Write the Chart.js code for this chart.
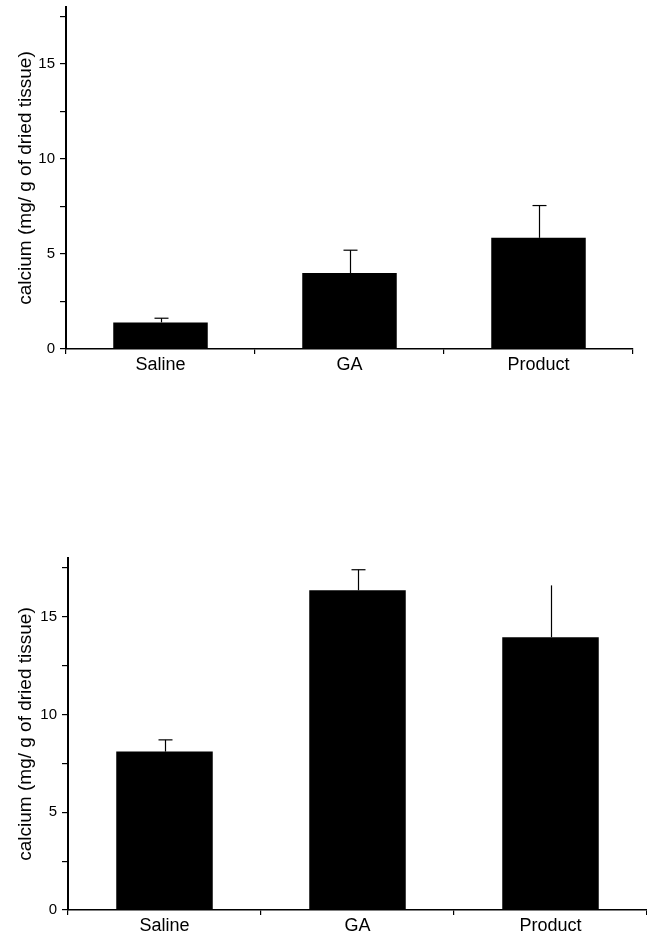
<!DOCTYPE html>
<html><head><meta charset="utf-8">
<script src="https://cdn.jsdelivr.net/npm/chart.js@4/dist/chart.umd.min.js"></script>
<style>
html,body{margin:0;padding:0;background:#fff;width:647px;height:936px;overflow:hidden;}
.box{position:absolute;left:0;width:647px;}
#b1{top:0;height:390px;}
#b2{top:540px;height:396px;}
</style></head><body>
<div class="box" id="b1"><canvas id="c1"></canvas></div>
<div class="box" id="b2"><canvas id="c2"></canvas></div>
<script>
const categories = ['Saline', 'GA', 'Product'];
const topMeans = [1.4, 4.0, 5.85];
const topErrors = [0.22, 1.2, 1.7];
const bottomMeans = [8.1, 16.35, 13.95];
const bottomErrors = [0.6, 1.05, 2.65];
const yTickLabels = [0, 5, 10, 15];
const yAxisTitle = 'calcium (mg/ g of dried tissue)';
const yMax = 18;

const FONT = '"Liberation Sans", Arial, Helvetica, sans-serif';

const errorBarPlugin = {
  id: 'errorBars',
  afterDatasetsDraw(chart, args, opts) {
    const meta = chart.getDatasetMeta(0);
    const ys = chart.scales.y;
    const ctx = chart.ctx;
    const errs = opts.errors || [];
    const noCap = opts.noCap || [];
    const data = chart.data.datasets[0].data;
    ctx.save();
    ctx.strokeStyle = '#000';
    ctx.lineWidth = 1.2;
    meta.data.forEach((bar, i) => {
      const yTop = ys.getPixelForValue(data[i] + errs[i]);
      const x = Math.round(bar.x) + 0.5;
      ctx.beginPath(); ctx.moveTo(x, bar.y); ctx.lineTo(x, yTop); ctx.stroke();
      if (!noCap.includes(i)) {
        ctx.beginPath(); ctx.moveTo(x - 7, yTop); ctx.lineTo(x + 7, yTop); ctx.stroke();
      }
    });
    ctx.restore();
  }
};

function makeChart(id, means, errors, lay, noCap) {
  return new Chart(document.getElementById(id), {
    type: 'bar',
    data: {
      labels: categories,
      datasets: [{ data: means, backgroundColor: '#000', borderWidth: 0, barPercentage: 0.5, categoryPercentage: 1 }]
    },
    options: {
      responsive: true, maintainAspectRatio: false, animation: false,
      layout: { padding: { top: lay.top, right: lay.right, left: 0, bottom: 0 } },
      plugins: { legend: { display: false }, tooltip: { enabled: false }, errorBars: { errors: errors, noCap: noCap } },
      scales: {
        x: {
          offset: true,
          grid: { offset: true, drawOnChartArea: false, tickLength: 5, color: '#000', lineWidth: 1.2 },
          border: { color: '#000', width: 1.5 },
          ticks: { color: '#000', font: { family: FONT, size: 18 }, padding: lay.xPad, maxRotation: 0 },
          afterFit(s) { s.height = lay.xHeight; s.paddingLeft = 0; s.paddingRight = 0; }
        },
        y: {
          min: 0, max: yMax,
          grid: { drawOnChartArea: false, tickLength: 6, color: '#000', lineWidth: 1.2 },
          border: { color: '#000', width: 2 },
          ticks: {
            stepSize: 2.5, includeBounds: false, color: '#000', padding: 5,
            font: { family: FONT, size: 15 },
            callback: v => yTickLabels.includes(v) ? String(v) : ''
          },
          title: { display: true, text: yAxisTitle, color: '#000', font: { family: FONT, size: 19 }, padding: { top: 14, bottom: 0 } },
          afterFit(s) { s.width = lay.left; s.paddingTop = 0; s.paddingBottom = 0; }
        }
      }
    },
    plugins: [errorBarPlugin]
  });
}

makeChart('c1', topMeans, topErrors, { top: 7, right: 14, left: 66, xHeight: 41, xPad: 0 }, []);
makeChart('c2', bottomMeans, bottomErrors, { top: 18, right: 0, left: 68, xHeight: 26, xPad: 0 }, [2]);
</script>
</body></html>
